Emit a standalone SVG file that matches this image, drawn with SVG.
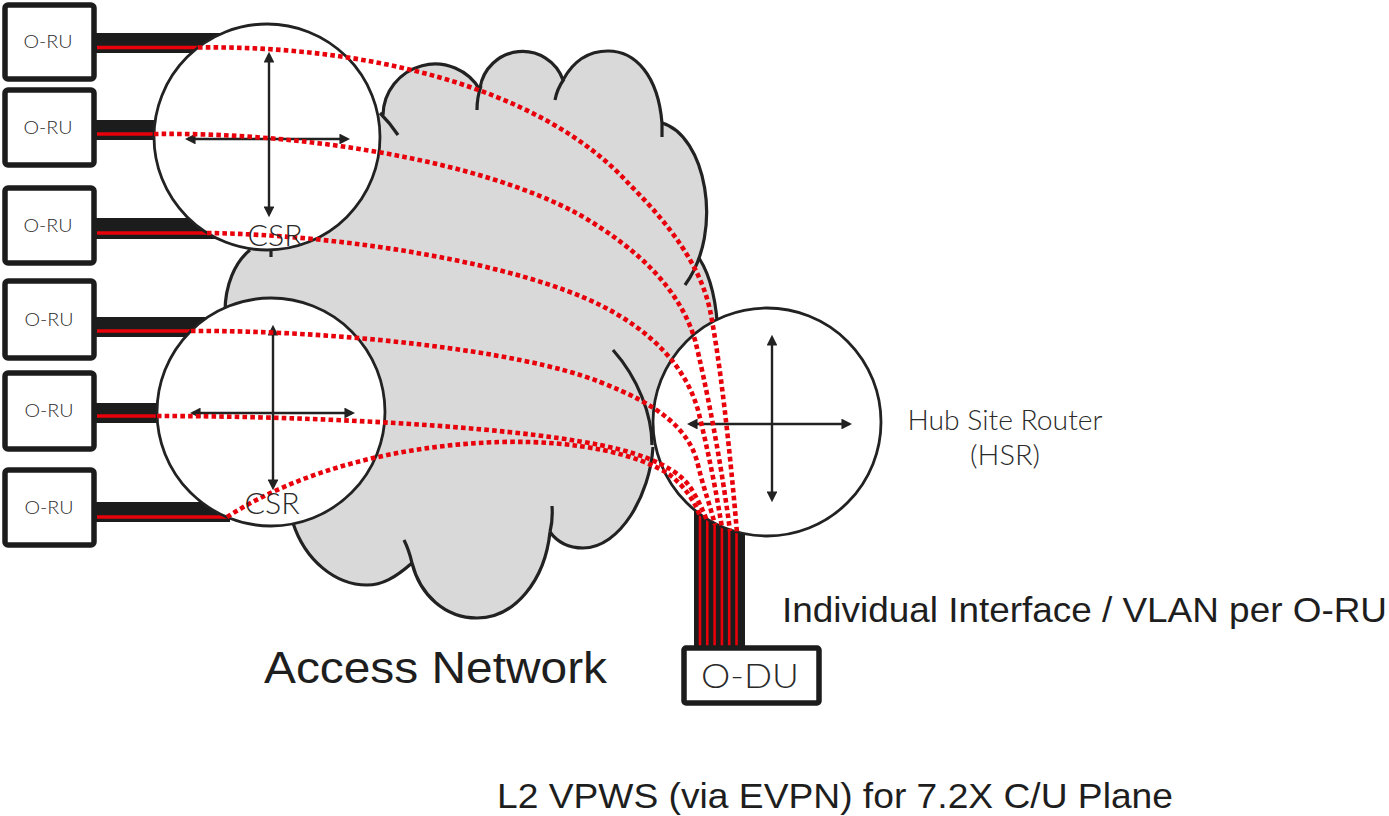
<svg xmlns="http://www.w3.org/2000/svg" width="1389" height="816" viewBox="0 0 1389 816">
<defs>
<style>
.cloudfill{fill:#d9d9d9;stroke:none}
.cl{fill:none;stroke:#222;stroke-width:3.2;stroke-linecap:butt}
.bar{fill:#1c1c1c}
.rs{stroke:#e8000a;stroke-width:3.5;fill:none}
.rw{stroke:#e8000a;stroke-width:2.6;fill:none}
.dot{fill:none;stroke:#e8000a;stroke-width:4.6;stroke-dasharray:4.6 3.2}
.circ{fill:#fff;stroke:#222;stroke-width:2.8}
.arr{stroke:#222;stroke-width:2.4;fill:none;marker-start:url(#ah);marker-end:url(#ah)}
.box{fill:#fff;stroke:#1c1c1c;stroke-width:5.5}
.thin{font-family:Lato,"Open Sans","Liberation Sans",sans-serif;font-weight:300;fill:#2a2a2a}
.reg{font-family:"Liberation Sans",Arial,sans-serif;fill:#1e1e1e}
</style>
<marker id="ah" viewBox="0 0 10 10" refX="7" refY="5" markerWidth="4.5" markerHeight="4.5" orient="auto-start-reverse">
<path d="M0,0 L10,5 L0,10 z" fill="#222"/>
</marker>
</defs>

<g id="access-network">
<path class="cloudfill" d="M383,115 A52,52 0 0 1 480,90 A43,43 0 0 1 563,80 C575,58 592,51 608,51 C635,51 658,75 662,123 C698.55,133.2 718.48,203.37 699.07,257.97 C710,275 717,300 718,330 L745,430 L653,447 C650,495 620,548 583,548 C570,548 558,543 550,532 C545,580 515,618 477,618 C445,618 420,595 412,563 C395,578 382,585 367,585 C335,585 305,560 293,523 L271,412 L225,310 C225,285 235,262 250,250 L300,150 Z"/>
<path class="cl" d="M383,115 A52,52 0 0 1 480,90"/>
<path class="cl" d="M380,113 Q390,123 398,135"/>
<path class="cl" d="M477,110 Q477,97 481,86"/>
<path class="cl" d="M480,88 A43,43 0 0 1 563,80"/>
<path class="cl" d="M555,100 Q557,89 564,79"/>
<path class="cl" d="M563,80 C575,58 592,51 608,51 C635,51 658,75 662,123 L662,137"/>
<path class="cl" d="M662,123 C705,135 725,230 685,285"/>
<path class="cl" d="M699,258 C710,275 717,300 718,338"/>
<path class="cl" d="M613,350 C638,378 652,415 652,445"/>
<path class="cl" d="M653,447 C650,495 620,548 583,548 C570,548 558,543 550,532"/>
<path class="cl" d="M552,506 Q553,520 550,532"/>
<path class="cl" d="M550,532 C545,580 515,618 477,618 C445,618 420,595 412,563"/>
<path class="cl" d="M404,540 Q409,550 412,563"/>
<path class="cl" d="M412,563 C395,578 382,585 367,585 C335,585 305,560 293,523"/>
<path class="cl" d="M250,250 C235,262 225,285 225,312"/>
<path class="cl" d="M271,248 L271,257"/>
</g>

<g id="connectors">
<rect class="bar" x="95" y="33" width="135" height="20"/>
<rect class="bar" x="95" y="120" width="80" height="20"/>
<rect class="bar" x="95" y="218" width="140" height="21"/>
<rect class="bar" x="95" y="317" width="130" height="20"/>
<rect class="bar" x="95" y="403" width="80" height="20"/>
<rect class="bar" x="95" y="502" width="135" height="20"/>
<line class="rs" x1="97" y1="47.5" x2="230" y2="47.5"/>
<line class="rs" x1="97" y1="134" x2="175" y2="134"/>
<line class="rs" x1="97" y1="233" x2="230" y2="233"/>
<line class="rs" x1="97" y1="331" x2="225" y2="331"/>
<line class="rs" x1="97" y1="416" x2="175" y2="416"/>
<line class="rs" x1="97" y1="517" x2="227" y2="517"/>
<rect class="bar" x="694" y="495" width="51" height="153"/>
<line class="rw" x1="700" y1="495" x2="700" y2="648"/>
<line class="rw" x1="707.3" y1="495" x2="707.3" y2="648"/>
<line class="rw" x1="714.6" y1="495" x2="714.6" y2="648"/>
<line class="rw" x1="721.9" y1="495" x2="721.9" y2="648"/>
<line class="rw" x1="729.2" y1="495" x2="729.2" y2="648"/>
<line class="rw" x1="736.5" y1="495" x2="736.5" y2="648"/>
</g>

<g id="csr1">
<circle class="circ" cx="267" cy="137" r="113"/>
<line class="arr" x1="269" y1="55" x2="269" y2="214"/>
<line class="arr" x1="188" y1="139" x2="347" y2="139"/>
</g>
<g id="csr2">
<circle class="circ" cx="271" cy="412" r="114"/>
<line class="arr" x1="273" y1="328" x2="273" y2="487"/>
<line class="arr" x1="193" y1="413" x2="352" y2="413"/>
</g>
<g id="hsr">
<circle class="circ" cx="767" cy="422" r="114"/>
<line class="arr" x1="772" y1="338" x2="772" y2="499"/>
<line class="arr" x1="690" y1="424" x2="849" y2="424"/>
<text class="thin" x="1005" y="430" font-size="27" text-anchor="middle" textLength="195" lengthAdjust="spacingAndGlyphs">Hub Site Router</text>
<text class="thin" x="1005" y="465" font-size="27" text-anchor="middle" textLength="70" lengthAdjust="spacingAndGlyphs">(HSR)</text>
</g>

<g id="pseudowires">
<path class="dot" d="M198,47.5 C360,45 540,85 630,185 C670,225 700,265 710,310 C720,360 730,450 737,533"/>
<path class="dot" d="M154,134 C300,132 480,160 580,215 C640,250 680,290 695,340 C705,380 721,460 730,531"/>
<path class="dot" d="M207,233 C350,235 520,265 600,305 C650,330 685,365 698,410 C708,450 716,490 722,528"/>
<path class="dot" d="M191,331 C330,330 520,350 600,382 C660,405 690,430 698,465 C704,490 710,505 715,525"/>
<path class="dot" d="M157,416 C300,416 500,425 600,445 C650,455 680,470 692,490 C698,500 703,510 707,521"/>
<path class="dot" d="M227,517 C300,470 400,445 500,442 C580,440 640,455 670,475 C685,487 694,500 700,516"/>
</g>

<g id="csr-labels">
<text class="thin" x="275" y="246" font-size="29" text-anchor="middle" textLength="55" lengthAdjust="spacingAndGlyphs">CSR</text>
<text class="thin" x="272" y="514" font-size="29" text-anchor="middle" textLength="55" lengthAdjust="spacingAndGlyphs">CSR</text>
</g>

<g id="oru1"><rect class="box" x="5" y="5" width="89" height="74" rx="3"/><text class="thin" x="48" y="48" font-size="18.5" text-anchor="middle" textLength="49" lengthAdjust="spacingAndGlyphs">O-RU</text></g>
<g id="oru2"><rect class="box" x="5" y="90" width="89" height="75" rx="3"/><text class="thin" x="48" y="133.5" font-size="18.5" text-anchor="middle" textLength="49" lengthAdjust="spacingAndGlyphs">O-RU</text></g>
<g id="oru3"><rect class="box" x="5" y="188" width="89" height="75" rx="3"/><text class="thin" x="48" y="231.5" font-size="18.5" text-anchor="middle" textLength="49" lengthAdjust="spacingAndGlyphs">O-RU</text></g>
<g id="oru4"><rect class="box" x="5" y="281" width="89" height="77" rx="3"/><text class="thin" x="49" y="326" font-size="18.5" text-anchor="middle" textLength="49" lengthAdjust="spacingAndGlyphs">O-RU</text></g>
<g id="oru5"><rect class="box" x="5" y="373" width="89" height="76" rx="3"/><text class="thin" x="49" y="417" font-size="18.5" text-anchor="middle" textLength="49" lengthAdjust="spacingAndGlyphs">O-RU</text></g>
<g id="oru6"><rect class="box" x="5" y="470" width="89" height="75" rx="3"/><text class="thin" x="49" y="513.5" font-size="18.5" text-anchor="middle" textLength="49" lengthAdjust="spacingAndGlyphs">O-RU</text></g>

<g id="odu"><rect class="box" x="684" y="648" width="135" height="55" rx="2"/><text class="thin" x="750" y="688" font-size="34" text-anchor="middle" textLength="98" lengthAdjust="spacingAndGlyphs">O-DU</text></g>

<g id="labels">
<text class="reg" x="264" y="683" font-size="45" textLength="343" lengthAdjust="spacingAndGlyphs">Access Network</text>
<text class="reg" x="782" y="622" font-size="35" textLength="605" lengthAdjust="spacingAndGlyphs">Individual Interface / VLAN per O-RU</text>
<text class="reg" x="497" y="808" font-size="35" textLength="676" lengthAdjust="spacingAndGlyphs">L2 VPWS (via EVPN) for 7.2X C/U Plane</text>
</g>
</svg>
